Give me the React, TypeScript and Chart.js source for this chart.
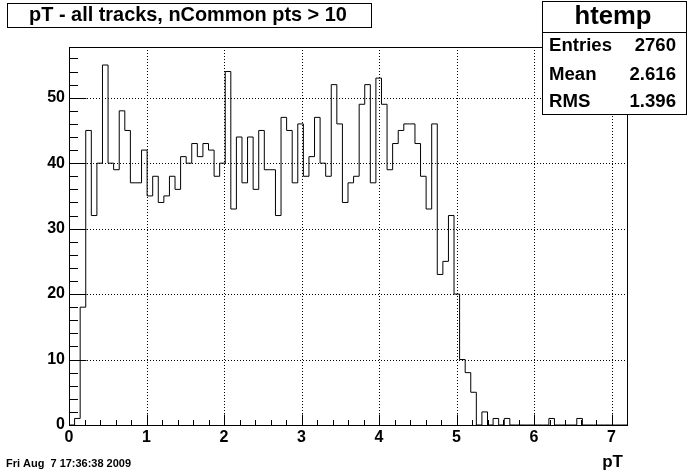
import React, { useEffect, useRef } from 'react';
import { Chart, registerables } from 'chart.js';

Chart.register(...registerables);

// ---- data ----
const binCounts: number[] = [
  0, 1, 18, 45, 32, 40, 55, 40, 39, 48,
  45, 37, 37, 42, 35, 38, 34, 35, 38, 36,
  41, 40, 43, 41, 43, 42, 38, 40, 54, 33,
  44, 37, 44, 36, 45, 39, 39, 32, 47, 45,
  37, 46, 38, 41, 47, 40, 38, 52, 46, 34,
  37, 38, 49, 52, 37, 53, 49, 39, 43, 45,
  46, 46, 43, 38, 33, 46, 23, 25, 32, 20,
  10, 8, 5, 0, 2, 0, 1, 0, 1, 0,
  0, 0, 0, 0, 0, 0, 1, 0, 0, 0,
  0, 1, 0, 0, 0, 0, 0, 0, 0, 0,
];
const xMin = 0;
const xMax = 7.2;
const yMax = 57.75;
const xTickValues = [0, 1, 2, 3, 4, 5, 6, 7];
const yTickValues = [0, 10, 20, 30, 40, 50];
const xMinorStep = 0.2;
const yMinorStep = 2;
const titleText = 'pT - all tracks, nCommon pts > 10';
const statsName = 'htemp';
const statsLabels = ['Entries', 'Mean', 'RMS'];
const statsValues = ['2760', '2.616', '1.396'];
const xAxisTitle = 'pT';
const dateText = 'Fri Aug  7 17:36:38 2009';

const FONT = "'Liberation Sans', Arial, Helvetica, sans-serif";

function fitFont(ctx: CanvasRenderingContext2D, text: string, targetWidth: number, base: number): number {
  ctx.font = `bold ${base}px ${FONT}`;
  const w = ctx.measureText(text).width;
  return w > 0 ? (base * targetWidth) / w : base;
}

const rootStyle = {
  id: 'rootStyle',
  beforeDatasetsDraw(chart: any) {
    const { ctx, chartArea: a, scales } = chart;
    const x = scales.x, y = scales.y;
    ctx.save();
    ctx.strokeStyle = '#000';
    ctx.lineWidth = 1;
    ctx.setLineDash([1, 2]);
    for (const v of xTickValues) {
      if (v === xMin) continue;
      const px = Math.round(x.getPixelForValue(v)) + 0.5;
      ctx.beginPath();
      ctx.moveTo(px, a.top);
      ctx.lineTo(px, a.bottom);
      ctx.stroke();
    }
    for (const v of yTickValues) {
      if (v === 0) continue;
      const py = Math.round(y.getPixelForValue(v)) + 0.5;
      ctx.beginPath();
      ctx.moveTo(a.left, py);
      ctx.lineTo(a.right, py);
      ctx.stroke();
    }
    ctx.restore();
  },
  afterDraw(chart: any) {
    const { ctx, chartArea: a, scales } = chart;
    const x = scales.x, y = scales.y;
    ctx.save();
    ctx.strokeStyle = '#000';
    ctx.fillStyle = '#000';
    ctx.lineWidth = 1;
    ctx.setLineDash([]);
    const L = Math.round(a.left) + 0.5;
    const R = Math.round(a.right) + 0.5;
    const T = Math.round(a.top) + 0.5;
    const B = Math.round(a.bottom) + 0.5;
    ctx.strokeRect(L, T, R - L, B - T);
    // x ticks
    const nx = Math.round((xMax - xMin) / xMinorStep);
    for (let i = 0; i <= nx; i++) {
      const v = xMin + i * xMinorStep;
      const major = Math.abs(v - Math.round(v)) < 1e-6;
      const px = Math.round(x.getPixelForValue(v)) + 0.5;
      ctx.beginPath();
      ctx.moveTo(px, B);
      ctx.lineTo(px, B - (major ? 11 : 5.5));
      ctx.stroke();
    }
    // y ticks
    for (let v = 0; v <= yMax; v += yMinorStep) {
      const major = v % 10 === 0;
      const py = Math.round(y.getPixelForValue(v)) + 0.5;
      ctx.beginPath();
      ctx.moveTo(L, py);
      ctx.lineTo(L + (major ? 17 : 8.5), py);
      ctx.stroke();
    }
    // title box
    ctx.fillStyle = '#fff';
    ctx.fillRect(7.5, 3.5, 364, 24);
    ctx.strokeRect(7.5, 3.5, 364, 24);
    ctx.fillStyle = '#000';
    const tSize = fitFont(ctx, titleText, 318, 19);
    ctx.font = `bold ${tSize}px ${FONT}`;
    ctx.textAlign = 'center';
    ctx.textBaseline = 'middle';
    ctx.fillText(titleText, 188, 16);
    // stats box
    ctx.fillStyle = '#fff';
    ctx.fillRect(542.5, 1.5, 144, 113);
    ctx.strokeRect(542.5, 1.5, 144, 113);
    ctx.beginPath();
    ctx.moveTo(542.5, 32.5);
    ctx.lineTo(686.5, 32.5);
    ctx.stroke();
    ctx.fillStyle = '#000';
    const hSize = fitFont(ctx, statsName, 77, 24);
    ctx.font = `bold ${hSize}px ${FONT}`;
    ctx.textAlign = 'center';
    ctx.fillText(statsName, 613, 17);
    const sSize = fitFont(ctx, statsLabels[0], 63, 18);
    ctx.font = `bold ${sSize}px ${FONT}`;
    const rowsY = [46, 75, 102];
    statsLabels.forEach((lab, i) => {
      ctx.textAlign = 'left';
      ctx.fillText(lab, 549, rowsY[i]);
      ctx.textAlign = 'right';
      ctx.fillText(statsValues[i], 676, rowsY[i]);
    });
    // x axis title
    ctx.font = `bold 17px ${FONT}`;
    ctx.textAlign = 'right';
    ctx.textBaseline = 'alphabetic';
    ctx.fillText(xAxisTitle, 623, 467);
    // date
    const dSize = fitFont(ctx, dateText, 125, 11);
    ctx.font = `bold ${dSize}px ${FONT}`;
    ctx.textAlign = 'left';
    ctx.fillText(dateText, 6, 467);
    ctx.restore();
  },
};

export default function App() {
  const ref = useRef<HTMLCanvasElement | null>(null);
  useEffect(() => {
    if (!ref.current) return;
    const bw = (xMax - xMin) / binCounts.length;
    // each point = left edge of a bin with its count; 'before' stepping draws horizontal then vertical
    const pts: { x: number; y: number }[] = [{ x: xMin, y: 0 }];
    binCounts.forEach((c, k) => {
      pts.push({ x: xMin + k * bw, y: c });
    });
    pts.push({ x: xMax, y: 0 });
    const tickFont = { family: FONT, weight: 'bold' as const, size: 16 };
    const chart = new Chart(ref.current, {
      type: 'line',
      data: {
        datasets: [
          {
            data: pts,
            borderColor: '#000',
            borderWidth: 1,
            pointRadius: 0,
            stepped: 'before',
            fill: false,
            tension: 0,
          },
        ],
      },
      options: {
        responsive: false,
        animation: false,
        devicePixelRatio: 1,
        layout: { padding: { left: 0, right: 69, top: 47, bottom: 0 } },
        plugins: { legend: { display: false }, title: { display: false }, tooltip: { enabled: false } },
        scales: {
          x: {
            type: 'linear',
            min: xMin,
            max: xMax,
            grid: { display: false, drawTicks: false },
            border: { display: false },
            afterBuildTicks: (s: any) => { s.ticks = xTickValues.map((v) => ({ value: v })); },
            afterFit: (s: any) => { s.height = 47; },
            ticks: { font: tickFont, color: '#000', padding: 3, maxRotation: 0, autoSkip: false, callback: (v: any) => String(v) },
          },
          y: {
            type: 'linear',
            min: 0,
            max: yMax,
            grid: { display: false, drawTicks: false },
            border: { display: false },
            afterBuildTicks: (s: any) => { s.ticks = yTickValues.map((v) => ({ value: v })); },
            afterFit: (s: any) => { s.width = 69; },
            ticks: { font: tickFont, color: '#000', padding: 4, autoSkip: false, callback: (v: any) => String(v) },
          },
        },
      },
      plugins: [rootStyle],
    });
    return () => chart.destroy();
  }, []);
  return (
    <div style={{ position: 'fixed', left: 0, top: 0, width: 696, height: 472, background: '#fff' }}>
      <canvas ref={ref} width={696} height={472} style={{ display: 'block' }} />
    </div>
  );
}
